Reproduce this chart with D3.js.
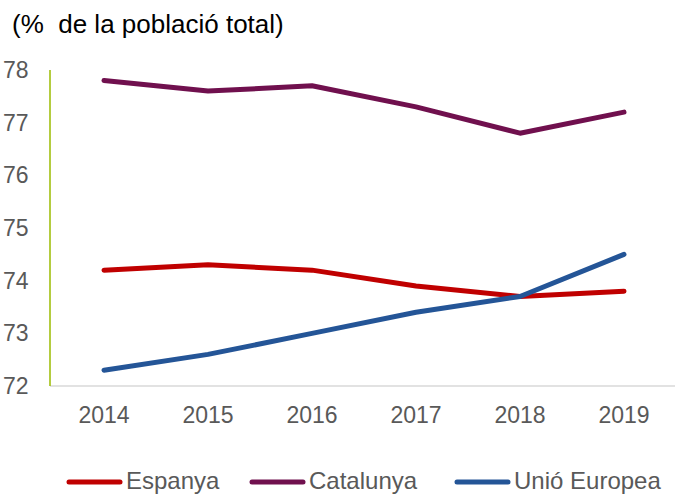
<!DOCTYPE html>
<html>
<head>
<meta charset="utf-8">
<script src="https://cdn.jsdelivr.net/npm/d3@7"></script>
<style>
  body { margin: 0; background: #fff; }
  text { font-family: "Liberation Sans", Arial, sans-serif; }
</style>
</head>
<body>
<div id="chart"></div>
<script>
// dades
var years = ["2014", "2015", "2016", "2017", "2018", "2019"];
var espanya = [74.2, 74.3, 74.2, 73.9, 73.7, 73.8];
var catalunya = [77.8, 77.6, 77.7, 77.3, 76.8, 77.2];
var unioEuropea = [72.3, 72.6, 73.0, 73.4, 73.7, 74.5];
var yTicks = [72, 73, 74, 75, 76, 77, 78];

var series = [
  { label: "Espanya", values: espanya, color: "#C00000" },
  { label: "Catalunya", values: catalunya, color: "#70104E" },
  { label: "Unió Europea", values: unioEuropea, color: "#245597" }
];

var width = 675, height = 495;
var margin = { top: 70, left: 50, bottom: 109 };

var svg = d3.select("#chart").append("svg")
  .attr("width", width)
  .attr("height", height);

svg.append("text")
  .attr("x", 12).attr("y", 33)
  .attr("font-size", 26)
  .attr("fill", "#000")
  .attr("xml:space", "preserve")
  .text("(%  de la població total)");

var x = d3.scaleBand().domain(years).range([52, 52 + 6 * 104]);
var y = d3.scaleLinear().domain([72, 78]).range([height - margin.bottom, margin.top]);

var g = svg.append("g");

// eix x (gris)
g.append("line")
  .attr("x1", margin.left).attr("x2", width)
  .attr("y1", y(72)).attr("y2", y(72))
  .attr("stroke", "#D9D9D9").attr("stroke-width", 1.5);

// eix y (verd oliva)
g.append("line")
  .attr("x1", margin.left).attr("x2", margin.left)
  .attr("y1", y(78)).attr("y2", y(72))
  .attr("stroke", "#9BBB00").attr("stroke-width", 1.5);

g.selectAll(".ytick").data(yTicks).enter()
  .append("text")
  .attr("class", "ytick")
  .attr("x", 3)
  .attr("y", function(d) { return y(d); })
  .attr("dy", "0.35em")
  .attr("font-size", 23)
  .attr("fill", "#595959")
  .text(function(d) { return d; });

g.selectAll(".xtick").data(years).enter()
  .append("text")
  .attr("class", "xtick")
  .attr("x", function(d) { return x(d) + x.bandwidth() / 2; })
  .attr("y", 423)
  .attr("text-anchor", "middle")
  .attr("font-size", 23)
  .attr("fill", "#595959")
  .text(function(d) { return d; });

var line = d3.line()
  .x(function(d, i) { return x(years[i]) + x.bandwidth() / 2; })
  .y(function(d) { return y(d); });

g.selectAll(".serie").data(series).enter()
  .append("path")
  .attr("class", "serie")
  .attr("d", function(d) { return line(d.values); })
  .attr("fill", "none")
  .attr("stroke", function(d) { return d.color; })
  .attr("stroke-width", 5)
  .attr("stroke-linecap", "round")
  .attr("stroke-linejoin", "round");

// llegenda
var legX = [69, 252, 457];
var leg = svg.selectAll(".leg").data(series).enter()
  .append("g")
  .attr("class", "leg")
  .attr("transform", function(d, i) { return "translate(" + legX[i] + ",482)"; });

leg.append("line")
  .attr("x1", 0).attr("x2", 51)
  .attr("stroke", function(d) { return d.color; })
  .attr("stroke-width", 5)
  .attr("stroke-linecap", "round");

leg.append("text")
  .attr("x", 57)
  .attr("dy", "0.3em")
  .attr("font-size", 24)
  .attr("fill", "#595959")
  .text(function(d) { return d.label; });
</script>
</body>
</html>
